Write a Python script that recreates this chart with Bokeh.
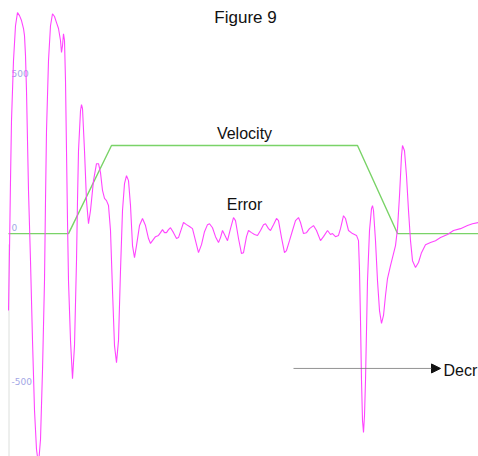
from bokeh.plotting import figure
from bokeh.models import Range1d, Arrow, NormalHead
from bokeh.core.properties import value
from bokeh.embed import file_html
from bokeh.resources import INLINE

# time (ms) and error samples
err_t = [8, 9, 10, 11, 13, 15, 17, 19, 21, 23, 24, 25, 26, 27, 28, 30, 32, 34, 36, 38, 40, 42,
         44, 45, 46, 48, 50, 52, 54, 56, 58, 60, 61, 62, 63, 64, 65, 66, 67, 68, 70, 72, 74,
         76, 77, 78, 80, 81, 82, 84, 86, 88, 90, 93, 96, 98, 100, 102, 104, 106, 108, 110,
         112, 114, 116, 118, 120, 122, 124, 126, 128, 130, 132, 134, 136, 139,
         142, 145, 148, 150, 152, 155, 158, 160, 162, 164, 166, 168, 170, 173, 176, 178, 181,
         183, 186, 189, 192, 195, 198, 201, 204, 207, 209, 212, 215, 218, 220, 222, 224, 227,
         230, 233, 235, 238, 241, 243, 246, 248, 251, 254, 257, 260, 263, 265, 268, 270, 273,
         276, 278, 281, 284, 286, 289, 292, 295, 298, 300, 303, 306, 309, 313, 316, 320, 323,
         327, 330, 332, 335, 338, 340, 343, 345, 348, 352, 356, 358, 359, 360, 361, 362, 363,
         364, 365, 366, 367, 369, 371, 372, 373, 375, 377, 379, 381, 383, 385, 387, 390, 393,
         395, 397, 399, 401, 402, 404, 406, 408, 410, 412, 415, 418, 421, 425, 430, 435, 440,
         447, 453, 460, 467, 472, 478]
err_v = [-250, -55, 172, 367, 562, 675, 718, 708, 692, 666, 643, 578, 464, 302, 140, -88,
         -347, -574, -701, -750, -669, -445, -153, 107, 334, 562, 675, 714, 705, 685, 666,
         627, 588, 610, 649, 627, 497, 269, 42, -153, -347, -471, -364, -88, 107, 269, 399,
         419, 406, 269, 107, 32, 75, 172, 227, 227, 198, 140, 114, 107, 91, 10, -185, -364,
         -419, -347, -120, 75, 162, 188, 172, 91, -39, -78, -39, 26,
         49, 26, -16, -32, -23, -10, -6, 3, 13, 3, 3, 13, 19, 3, -16, -13, 16,
         36, 29, 23, 16, -23, -62, -36, 6, 29, 32, 19, -10, -29, -13, 10, -3, -23,
         16, 52, 42, -16, -65, -62, -10, 10, 3, -3, -6, 10, 29, 32, 16, 10, 29,
         49, 42, -13, -62, -55, -23, 10, 42, 52, 36, 0, 3, 16, 26, 10, -23, -10,
         10, -3, 0, -10, -6, 16, 58, 49, 10, 0, -6, -23, -120, -282, -477, -607, -646,
         -591, -477, -315, -153, 10, 81, 91, 75, -23, -153, -250, -292, -266, -201, -146, -104, -65,
         -39, 16, 123, 253, 286, 269, 188, 75, -23, -88, -110, -94, -62, -36, -29, -23, -13,
         -3, 10, 16, 26, 32, 36]

vel_t = [8, 68, 111, 357, 397, 478]
vel_v = [0, 0, 286, 286, 0, 0]

tick_values = [500, 0, -500]
tick_labels = ["500", "0", "-500"]

p = figure(width=478, height=456, output_backend="svg", toolbar_location=None,
           x_range=Range1d(0, 478), y_range=Range1d(-724, 757),
           min_border=0, min_border_left=0, min_border_right=0,
           min_border_top=0, min_border_bottom=0)
p.axis.visible = False
p.grid.visible = False
p.outline_line_color = None
p.background_fill_color = "white"

# faint left axis
p.segment(x0=[8.5], y0=[-35], x1=[8.5], y1=[-740], line_color="#dcdfdc", line_width=1)

# tick labels
p.text(x=[11] * 3, y=tick_values, text=tick_labels, text_color="#a3a7e6",
       text_font=value("DejaVu Sans"), text_font_size="9px",
       text_baseline="middle", text_align="left", y_offset=-6)

p.line(vel_t, vel_v, line_color="#7ad368", line_width=1.4)
p.line(err_t, err_v, line_color="#ff45ff", line_width=1.1)

font = value("Liberation Sans")
p.text(x=[245], y=[701], text=["Figure 9"], text_font=font, text_font_size="17px",
       text_align="center", text_baseline="middle", text_color="#111111")
p.text(x=[244], y=[325], text=["Velocity"], text_font=font, text_font_size="16px",
       text_align="center", text_baseline="middle", text_color="#111111")
p.text(x=[244], y=[94], text=["Error"], text_font=font, text_font_size="16px",
       text_align="center", text_baseline="middle", text_color="#111111")
p.text(x=[443], y=[-445], text=["Decr"], text_font=font, text_font_size="16px",
       text_align="left", text_baseline="middle", text_color="#111111")

p.add_layout(Arrow(end=NormalHead(size=9, fill_color="#111111", line_color="#111111"),
                   x_start=293, y_start=-438, x_end=440, y_end=-438,
                   line_color="#777777", line_width=0.8))

open("out.html", "w").write(file_html(p, INLINE))
